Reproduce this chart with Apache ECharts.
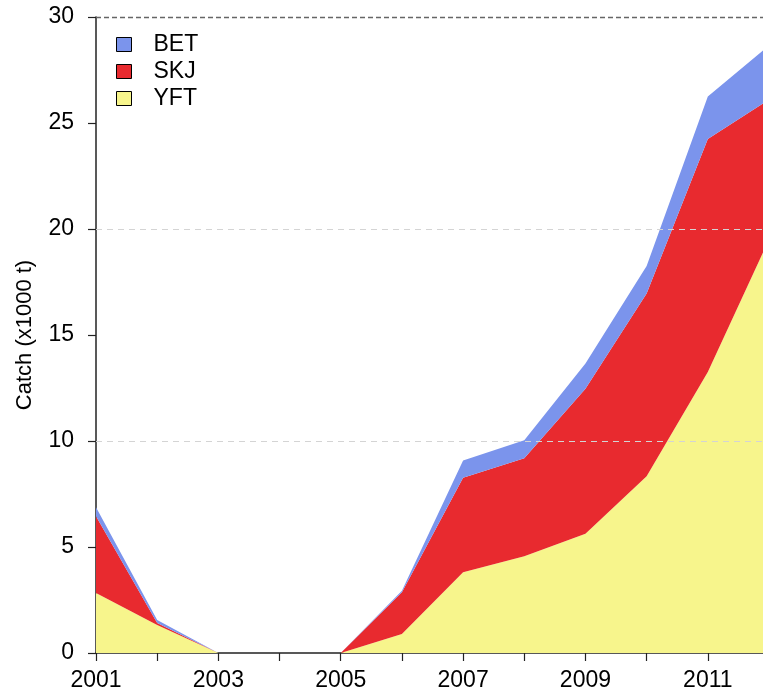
<!DOCTYPE html>
<html>
<head>
<meta charset="utf-8">
<script src="https://cdn.jsdelivr.net/npm/echarts@6/dist/echarts.min.js"></script>
<style>
  html, body { margin: 0; padding: 0; background: #fff; overflow: hidden; }
  #chart { width: 763px; height: 698px; }
</style>
</head>
<body>
<div id="chart"></div>
<script>
// catch by species, thousand tonnes
var years = ['2001', '2002', '2003', '2004', '2005', '2006', '2007', '2008', '2009', '2010', '2011', '2012'];
var yft = [2.83, 1.32, 0, 0, 0, 0.90, 3.81, 4.56, 5.62, 8.34, 13.25, 19.5];
var skj = [3.62, 0.10, 0, 0, 0, 1.96, 4.46, 4.63, 6.85, 8.62, 11.0, 6.6];
var bet = [0.43, 0.14, 0, 0, 0, 0.08, 0.81, 0.84, 1.18, 1.30, 2.0, 2.55];
var gridLines = [10, 20];

var font = 'Liberation Sans, Arial, sans-serif';

var myChart = echarts.init(document.getElementById('chart'));

var option = {
    animation: false,
    textStyle: { fontFamily: font },
    legend: {
        data: ['BET', 'SKJ', 'YFT'],
        orient: 'vertical',
        left: 111,
        top: 28,
        itemWidth: 15,
        itemHeight: 14,
        itemGap: 4,
        icon: 'rect',
        itemStyle: { borderColor: '#000', borderWidth: 1 },
        textStyle: { fontSize: 23, lineHeight: 23, color: '#000', padding: [0, 0, 0, 17] }
    },
    grid: {
        left: 96,
        top: 17,
        width: 673,
        height: 636,
        outerBoundsMode: 'none'
    },
    xAxis: {
        type: 'category',
        data: years,
        boundaryGap: false,
        splitLine: { show: false },
        axisLine: { lineStyle: { color: '#222', width: 1.5 } },
        axisTick: { interval: 0, length: 8, lineStyle: { color: '#222', width: 1.2 } },
        axisLabel: { interval: 1, fontSize: 23, color: '#000', margin: 16 }
    },
    yAxis: {
        type: 'value',
        min: 0,
        max: 30,
        interval: 5,
        name: 'Catch (x1000 t)',
        nameLocation: 'middle',
        nameGap: 60,
        nameTextStyle: { fontSize: 22, color: '#000' },
        splitLine: { show: false },
        axisLine: { show: true, lineStyle: { color: '#222', width: 1.5 } },
        axisTick: { show: true, length: 8, lineStyle: { color: '#222', width: 1.2 } },
        axisLabel: { fontSize: 23, color: '#000', margin: 22 }
    },
    series: [
        {
            name: 'YFT',
            type: 'line',
            stack: 'catch',
            data: yft,
            showSymbol: false,
            lineStyle: { width: 0 },
            itemStyle: { color: '#f7f58c' },
            areaStyle: { color: '#f7f58c', opacity: 1 }
        },
        {
            name: 'SKJ',
            type: 'line',
            stack: 'catch',
            data: skj,
            showSymbol: false,
            lineStyle: { width: 0 },
            itemStyle: { color: '#e82a2f' },
            areaStyle: { color: '#e82a2f', opacity: 1 }
        },
        {
            name: 'BET',
            type: 'line',
            stack: 'catch',
            data: bet,
            showSymbol: false,
            lineStyle: { width: 0 },
            itemStyle: { color: '#7b94ec' },
            areaStyle: { color: '#7b94ec', opacity: 1 },
            markLine: {
                silent: true,
                symbol: 'none',
                label: { show: false },
                data: gridLines.map(function (v) {
                    return { yAxis: v, lineStyle: { color: '#d4d4d4', type: [6, 5], width: 1 } };
                }).concat([{ yAxis: 30, lineStyle: { color: '#666', type: [5, 3], width: 1.3 } }])
            }
        }
    ]
};

myChart.setOption(option);
</script>
</body>
</html>
